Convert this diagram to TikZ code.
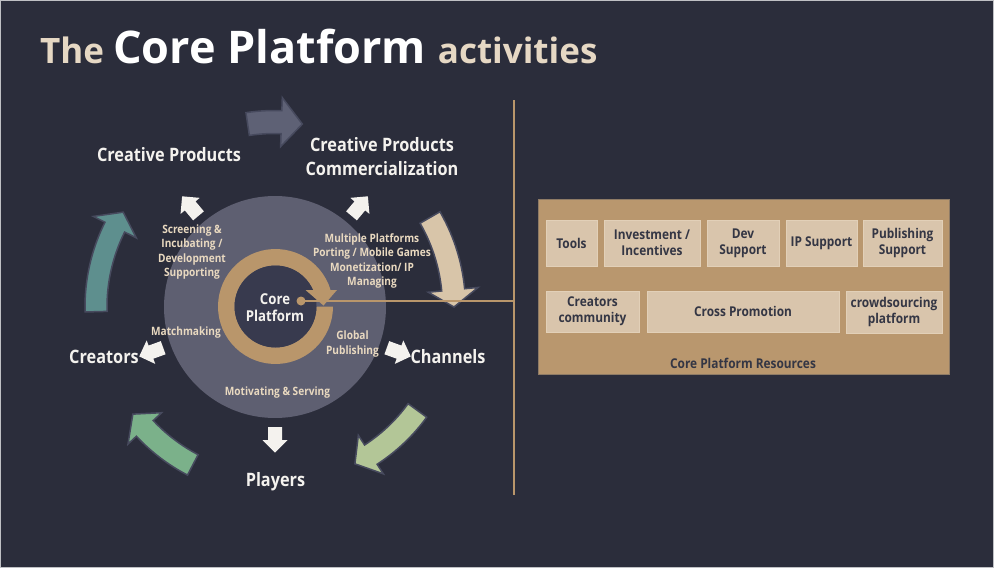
\documentclass[tikz,border=0pt]{standalone}
\usepackage{fontspec}
\setmainfont[FakeStretch=0.88]{Open Sans}
\newfontfamily\titlefont{Open Sans}
\usetikzlibrary{calc}
\definecolor{bg}{HTML}{2B2D3B}
\definecolor{frameclr}{HTML}{BFC0C4}
\definecolor{bigcirc}{HTML}{5E5F71}
\definecolor{innerc}{HTML}{383A4E}
\definecolor{tan}{HTML}{B9966B}
\definecolor{txtw}{HTML}{F4F2EE}
\definecolor{lblc}{HTML}{E9D9C0}
\definecolor{titleb}{HTML}{E6D8C4}
\definecolor{tealc}{HTML}{5E8F8E}
\definecolor{greyc}{HTML}{5E6175}
\definecolor{beigec}{HTML}{D8C5A9}
\definecolor{lgreen}{HTML}{B3C697}
\definecolor{greenc}{HTML}{7BB18A}
\definecolor{outl}{HTML}{474A5E}
\definecolor{resfill}{HTML}{B9976E}
\definecolor{resborder}{HTML}{8E7B66}
\definecolor{boxfill}{HTML}{D9C5AC}
\definecolor{boxborder}{HTML}{E2D0B8}
\definecolor{boxtxt}{HTML}{343644}
\tikzset{
  biglbl/.style={text=txtw, font=\fontsize{18.5}{24}\selectfont\bfseries, align=center, inner sep=0},
  smalllbl/.style={text=lblc, font=\fontsize{11.5}{14.4}\selectfont\bfseries, align=center, inner sep=0},
  bigarrow/.style={draw=outl, line width=1.5pt, line join=miter},
  warrow/.style={fill=txtw},
  resbox/.style={fill=boxfill, draw=boxborder, line width=0.8pt, text=boxtxt,
     font=\fontsize{13.5}{16}\selectfont\bfseries, align=center, inner sep=0},
}
% curved block arrow around centre (C): fill colour, mid radius, shaft half width, start angle, head base angle, tip angle, head half width
\newcommand\curvedarrow[7]{%
  \filldraw[bigarrow, fill=#1]
    plot[domain=#4:#5, samples=30] (\x:{#2+#3})
    -- ({#5}:{#2+#7}) -- ({#6}:{#2}) -- ({#5}:{#2-#7})
    -- plot[domain=#5:#4, samples=30] (\x:{#2-#3}) -- cycle;}
% small white radial block arrow: name, screen angle, distance from centre
\newcommand\radialarrow[3]{%
  \coordinate (#1) at ($(C)+({#2}:#3)$);
  \fill[warrow] ($(#1)+({#2}:-13)+({#2+90}:7)$) -- ($(#1)+({#2}:0)+({#2+90}:7)$)
    -- ($(#1)+({#2}:0)+({#2+90}:12.5)$) -- ($(#1)+({#2}:12.5)$)
    -- ($(#1)+({#2}:0)+({#2+90}:-12.5)$) -- ($(#1)+({#2}:0)+({#2+90}:-7)$)
    -- ($(#1)+({#2}:-13)+({#2+90}:-7)$) -- cycle;}
\begin{document}
\begin{tikzpicture}[x=1pt,y=-1pt]
\fill[bg] (0,0) rectangle (994,568);
\draw[frameclr, line width=1pt] (0.5,0.5) rectangle (993.5,567.5);
\useasboundingbox (0,0) rectangle (994,568);

% title
\node[anchor=base west, inner sep=0] (title) at (40,63)
  {\titlefont\bfseries\fontsize{35}{40}\selectfont\color{titleb}The
   \fontsize{45}{50}\selectfont\color{white}Core Platform
   \fontsize{35}{40}\selectfont\color{titleb}activities};

\coordinate (C) at (275,307);

% big circle and ring
\fill[bigcirc] (C) circle[radius=111];
\begin{scope}[shift={(275.5,306.5)}]
  \fill[tan] plot[domain=0:343, samples=60] (\x:57.5) -- plot[domain=343:0, samples=60] (\x:41) -- cycle;
  \fill[innerc] (0,0) circle[radius=41];
\end{scope}
\fill[tan] (305.5,290) -- (337,290) -- (323.5,305.5) -- cycle;

% outer cycle arrows
\begin{scope}[shift={(C)}]
  \curvedarrow{tealc}{179}{11}{178.5}{206.5}{212}{24}
  \curvedarrow{greyc}{185}{11.5}{261.5}{272}{278.5}{24.5}
  \curvedarrow{beigec}{179}{11.5}{-30}{-5.5}{0}{25}
  \curvedarrow{lgreen}{176}{11.5}{36}{57}{63}{23}
  \curvedarrow{greenc}{178}{11.5}{117.5}{137}{143}{23}
\end{scope}

% small white arrows
\radialarrow{a1}{-130}{132}
\radialarrow{a2}{-50}{132}
\radialarrow{a3}{160}{132}
\radialarrow{a4}{20}{132}
\radialarrow{a5}{90}{133}

% divider and link
\coordinate (divtop) at (514,100);
\coordinate (divbot) at (514,495);
\draw[tan, line width=2pt] (divtop) -- (divbot);
\coordinate (linkend) at (514,301);
\fill[tan] (301,301) circle[radius=4.5] coordinate (dot);
\draw[tan, line width=2.6pt] (dot) -- (linkend);

% labels
\node[biglbl] (cp) at (169,155) {Creative Products};
\node[biglbl] (cpc) at (382,157) {Creative Products\\Commercialization};
\node[biglbl] (creators) at (104,357) {Creators};
\node[biglbl] (channels) at (448,357) {Channels};
\node[biglbl] (players) at (275.5,482) {Players};

\node[smalllbl] (screen) at (192,252) {Screening \&\\Incubating /\\Development\\Supporting};
\node[smalllbl] (multi) at (372,261) {Multiple Platforms\\Porting / Mobile Games\\Monetization/ IP\\Managing};
\node[smalllbl] (match) at (186,333) {Matchmaking};
\node[smalllbl] (glob) at (352.5,344) {Global\\Publishing};
\node[smalllbl] (motiv) at (277.5,393) {Motivating \& Serving};
\node[text=txtw, font=\fontsize{15}{17}\selectfont\bfseries, align=center, inner sep=0] (core) at (275,307.5) {Core\\Platform};

% resources panel
\node[fill=resfill, draw=resborder, line width=0.8pt, minimum width=411pt, minimum height=175pt, inner sep=0] (res) at (743.5,286.5) {};
\node[resbox, minimum width=51pt, minimum height=46pt] (tools) at (571.5,243) {Tools};
\node[resbox, minimum width=96pt, minimum height=46pt] (invest) at (652,243) {Investment /\\Incentives};
\node[resbox, minimum width=72pt, minimum height=46pt] (dev) at (743,243) {Dev\\Support};
\node[resbox, minimum width=71pt, minimum height=46pt] (ip) at (821.5,243) {IP Support};
\node[resbox, minimum width=79pt, minimum height=46pt] (pub) at (902.5,243) {Publishing\\Support};
\node[resbox, minimum width=93pt, minimum height=41pt] (ccomm) at (592.5,311.5) {Creators\\community};
\node[resbox, minimum width=192pt, minimum height=41pt] (cross) at (743,311.5) {Cross Promotion};
\node[resbox, minimum width=96pt, minimum height=42pt] (crowd) at (894,312) {crowdsourcing\\platform};
\node[text=boxtxt, font=\fontsize{13.5}{15}\selectfont\bfseries, inner sep=0] (reslbl) at (743,363) {Core Platform Resources};
\end{tikzpicture}
\end{document}
